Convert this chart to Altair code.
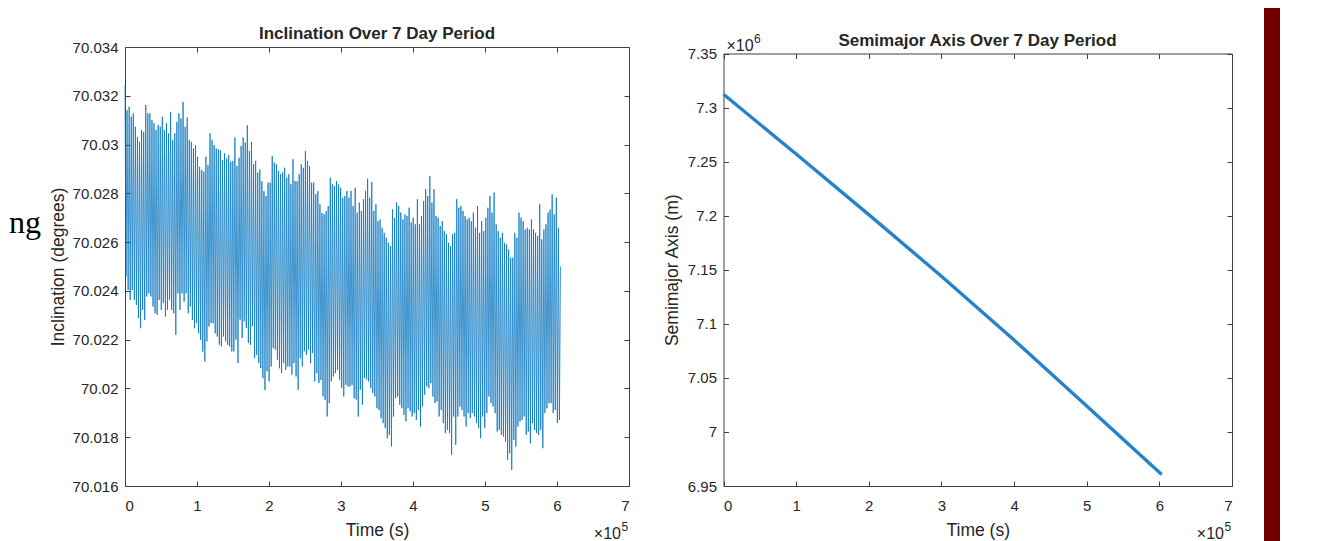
import altair as alt
import pandas as pd
import numpy as np

# ---------------- data ----------------
# Inclination (deg): successive upper and lower turning points of the oscillation
inc_peaks = [
    70.03244, 70.03141, 70.03155, 70.03114, 70.03128, 70.03073, 70.03032, 70.03011, 70.03059, 70.03052,
    70.03162, 70.03128, 70.03128, 70.03100, 70.03087, 70.03059, 70.03080, 70.03073, 70.03114, 70.03059,
    70.03087, 70.03046, 70.03134, 70.03018, 70.03046, 70.03093, 70.03128, 70.03107, 70.03175, 70.03073,
    70.03111, 70.03018, 70.03011, 70.02984, 70.02998, 70.02950, 70.02909, 70.02895, 70.02889, 70.02950,
    70.02916, 70.03046, 70.03018, 70.02998, 70.02984, 70.02980, 70.02977, 70.02936, 70.02964, 70.02943,
    70.02957, 70.02930,
    70.02933, 70.03029, 70.02912, 70.02946, 70.02994, 70.03029, 70.03008, 70.03079, 70.02974, 70.03011,
    70.02919, 70.02933, 70.02885, 70.02898, 70.02850, 70.02809, 70.02789, 70.02844, 70.02844, 70.02953,
    70.02926, 70.02919, 70.02892, 70.02878, 70.02885, 70.02905, 70.02864, 70.02878, 70.02837, 70.02940,
    70.02850, 70.02850, 70.02878, 70.02919, 70.02905, 70.02974, 70.02933, 70.02912, 70.02844, 70.02844,
    70.02796, 70.02809, 70.02755, 70.02720, 70.02714, 70.02727, 70.02748, 70.02864, 70.02837, 70.02830,
    70.02850,
    70.02837, 70.02823, 70.02782, 70.02789, 70.02810, 70.02782, 70.02810, 70.02748, 70.02823, 70.02721,
    70.02762, 70.02728, 70.02776, 70.02810, 70.02860, 70.02782, 70.02847, 70.02728, 70.02755, 70.02686,
    70.02693, 70.02659, 70.02638, 70.02618, 70.02597, 70.02584, 70.02734, 70.02700, 70.02762, 70.02748,
    70.02721, 70.02693, 70.02714, 70.02707, 70.02741, 70.02680, 70.02700, 70.02673, 70.02776, 70.02673,
    70.02707, 70.02769, 70.02817, 70.02789, 70.02871, 70.02762, 70.02817, 70.02707, 70.02700, 70.02666,
    70.02686, 70.02645,
    70.02632, 70.02597, 70.02584, 70.02632, 70.02638, 70.02776, 70.02741, 70.02748, 70.02728, 70.02707,
    70.02693, 70.02700, 70.02686, 70.02721, 70.02659, 70.02748, 70.02638, 70.02686, 70.02645, 70.02700,
    70.02741, 70.02789, 70.02721, 70.02803, 70.02673, 70.02645, 70.02618, 70.02638, 70.02597, 70.02591,
    70.02570, 70.02536, 70.02536, 70.02638, 70.02618, 70.02721, 70.02700, 70.02686, 70.02652, 70.02659,
    70.02652, 70.02693, 70.02652, 70.02638, 70.02625, 70.02755, 70.02611, 70.02652, 70.02673, 70.02721,
    70.02734, 70.02796, 70.02714, 70.02782, 70.02659,
]
inc_troughs = [
    70.02459, 70.02404, 70.02363, 70.02404, 70.02363, 70.02342, 70.02288, 70.02247, 70.02322, 70.02281,
    70.02377, 70.02390, 70.02377, 70.02336, 70.02308, 70.02302, 70.02363, 70.02322, 70.02350, 70.02295,
    70.02322, 70.02363, 70.02322, 70.02308, 70.02220, 70.02390, 70.02322, 70.02390, 70.02356, 70.02390,
    70.02308, 70.02336, 70.02281, 70.02247, 70.02268, 70.02226, 70.02199, 70.02151, 70.02110, 70.02193,
    70.02254, 70.02268, 70.02268, 70.02226, 70.02213, 70.02179, 70.02172, 70.02213, 70.02193, 70.02179,
    70.02172, 70.02151,
    70.02152, 70.02200, 70.02104, 70.02282, 70.02207, 70.02275, 70.02248, 70.02186, 70.02179, 70.02255,
    70.02124, 70.02138, 70.02104, 70.02083, 70.02042, 70.01994, 70.02070, 70.02029, 70.02090, 70.02165,
    70.02159, 70.02118, 70.02083, 70.02063, 70.02104, 70.02076, 70.02090, 70.02090, 70.02056, 70.02104,
    70.02049, 70.01994, 70.02124, 70.02090, 70.02152, 70.02138, 70.02159, 70.02104, 70.02145, 70.02029,
    70.02063, 70.02022, 70.02035, 70.01967, 70.01953, 70.01885, 70.01939, 70.02029, 70.02049, 70.02063,
    70.02076,
    70.02036, 70.02001, 70.01967, 70.02015, 70.02008, 70.02008, 70.02015, 70.01960, 70.01954, 70.01885,
    70.01995, 70.01933, 70.02043, 70.02036, 70.02029, 70.02001, 70.01981, 70.01967, 70.01919, 70.01912,
    70.01878, 70.01858, 70.01837, 70.01796, 70.01810, 70.01762, 70.01885, 70.01960, 70.01967, 70.01933,
    70.01919, 70.01892, 70.01865, 70.01919, 70.01906, 70.01885, 70.01899, 70.01871, 70.01912, 70.01844,
    70.01926, 70.01974, 70.02008, 70.02001, 70.02022, 70.01967, 70.01940, 70.01947, 70.01885, 70.01912,
    70.01858, 70.01817,
    70.01830, 70.01817, 70.01728, 70.01885, 70.01769, 70.01885, 70.01926, 70.01912, 70.01885, 70.01844,
    70.01899, 70.01878, 70.01899, 70.01885, 70.01858, 70.01837, 70.01796, 70.01885, 70.01837, 70.01899,
    70.01967, 70.01940, 70.01926, 70.01899, 70.01823, 70.01830, 70.01810, 70.01803, 70.01782, 70.01707,
    70.01734, 70.01666, 70.01789, 70.01762, 70.01844, 70.01865, 70.01871, 70.01885, 70.01810, 70.01823,
    70.01775, 70.01858, 70.01830, 70.01817, 70.01810, 70.01830, 70.01755, 70.01899, 70.01919, 70.01940,
    70.01940, 70.01899, 70.01912, 70.01858, 70.01871,
]
inc_last = 70.0250
t_end = 604800  # 7 days in seconds

# Semimajor axis (m)
sm_time = [0, 100000, 200000, 300000, 400000, 500000, 603200]
sm_value = [7312300, 7257000, 7201000, 7144000, 7085000, 7024000, 6960600]

x_ticks = [0, 100000, 200000, 300000, 400000, 500000, 600000, 700000]
inc_ticks = [70.016, 70.018, 70.020, 70.022, 70.024, 70.026, 70.028, 70.030, 70.032, 70.034]
sm_ticks = [6950000, 7000000, 7050000, 7100000, 7150000, 7200000, 7250000, 7300000, 7350000]

title_left = ["Inclination Over 7 Day Period"]
title_right = ["Semimajor Axis Over 7 Day Period"]
ylabel_left = "Inclination (degrees)"
ylabel_right = "Semimajor Axis (m)"
xlabel = "Time (s)"
side_text = ["ng"]

# ---------------- build tables ----------------
assert len(inc_peaks) == len(inc_troughs)
vals = np.empty(2 * len(inc_peaks) + 1)
vals[0:-1:2] = inc_peaks
vals[1:-1:2] = inc_troughs
vals[-1] = inc_last
times = np.arange(len(vals)) * (t_end / (len(vals) - 1))
inc_df = pd.DataFrame({"t": times, "inc": vals})
sm_df = pd.DataFrame({"t": sm_time, "a": sm_value})

# ---------------- geometry ----------------
W, H = 1107, 439
AX = "#262626"
FONT = "Liberation Sans"
TICK = 5


def panel(df, yf, xrange_, yrange_, ydom, yticks, ylabel_expr, ytitle, title_x, left_x, right_x, top_y, line):
    xs = alt.Scale(domain=[0, 700000], range=xrange_, nice=False, zero=False)
    ys = alt.Scale(domain=ydom, range=yrange_, nice=False, zero=False)
    base = alt.Chart(df)
    main = line.encode(
        x=alt.X("t:Q", scale=xs, axis=alt.Axis(
            orient="bottom", values=x_ticks, labelExpr="format(datum.value/100000,'d')",
            tickSize=0, labelPadding=12, title=xlabel, titleY=44, titleBaseline="middle")),
        y=alt.Y(f"{yf}:Q", scale=ys, axis=alt.Axis(
            orient="left", offset=-left_x, values=yticks, labelExpr=ylabel_expr,
            tickSize=0, labelPadding=7, title=ytitle, titleX=title_x,
            titleBaseline="middle", titleAlign="center")),
    )
    t1 = base.mark_line(opacity=0).encode(
        x=alt.X("t:Q", scale=xs, axis=alt.Axis(
            orient="top", offset=-H, values=x_ticks, labels=False, tickSize=TICK,
            domain=False, title="")),
        y=alt.Y(f"{yf}:Q", scale=ys, axis=alt.Axis(
            orient="right", offset=-(W - left_x), values=yticks, labels=False,
            tickSize=TICK, domain=False, title="")),
    )
    t2 = base.mark_line(opacity=0).encode(
        x=alt.X("t:Q", scale=xs, axis=alt.Axis(
            orient="bottom", offset=-(H - top_y), values=x_ticks, labels=False,
            tickSize=TICK, domain=True, title="")),
        y=alt.Y(f"{yf}:Q", scale=ys, axis=alt.Axis(
            orient="left", offset=-right_x, values=yticks, labels=False,
            tickSize=TICK, domain=True, title="")),
    )
    return [main, t1, t2]


left_layers = panel(
    inc_df, "inc", [0, 504], [H, 0], [70.016, 70.034], inc_ticks,
    "format(datum.value,'.3~f')", ylabel_left, -67, 0, 504, 0,
    alt.Chart(inc_df).mark_line(color="#0072BD", strokeWidth=0.75),
)
right_layers = panel(
    sm_df, "a", [598.5, 1107], [H, 6.5], [6950000, 7350000], sm_ticks,
    "format(datum.value/1000000,'.2~f')", ylabel_right, -51.5, 598.5, 1107, 6.5,
    alt.Chart(sm_df).mark_line(color="#2583c9", strokeWidth=3.4),
)


def txt(s, x, y, size, weight="normal", align="center", baseline="middle", font=FONT, color=AX):
    return alt.Chart(pd.DataFrame({"s": s})).mark_text(
        font=font, fontSize=size, fontWeight=weight, align=align, baseline=baseline, color=color
    ).encode(text="s:N", x=alt.value(x), y=alt.value(y))


texts = [
    txt(title_left, 252, -13, 17, weight="bold"),
    txt(title_right, 852.5, -6, 17, weight="bold"),
    txt(["\u00d710"], 496, 491.5, 16, align="right", baseline="alphabetic"),
    txt(["5"], 496.5, 483.5, 12, align="left", baseline="alphabetic"),
    txt(["\u00d710"], 1099, 491.5, 16, align="right", baseline="alphabetic"),
    txt(["5"], 1099.5, 483.5, 12, align="left", baseline="alphabetic"),
    txt(["\u00d710"], 601.5, 3.7, 16, align="left", baseline="alphabetic"),
    txt(["6"], 629, -4.3, 12, align="left", baseline="alphabetic"),
    txt(side_text, -116, 186, 32, align="left", baseline="alphabetic",
        font="Liberation Serif", color="#000000"),
]

bar = alt.Chart(pd.DataFrame({"k": [0]})).mark_rect(color="#730000").encode(
    x=alt.value(1139), x2=alt.value(1155), y=alt.value(-47), y2=alt.value(494)
)

chart = alt.layer(*left_layers, *right_layers, *texts, bar).resolve_scale(
    x="independent", y="independent"
).properties(
    width=W, height=H,
    padding={"left": 117, "top": 39, "right": 85, "bottom": 55},
    autosize=alt.AutoSizeParams(type="none"),
).configure_view(stroke="transparent").configure_axis(
    grid=False, labelFont=FONT, titleFont=FONT, labelFontSize=15, titleFontSize=17.5,
    titleFontWeight="normal", labelColor=AX, titleColor=AX, domainColor="#404040",
    tickColor="#404040", domainWidth=1, tickWidth=1,
)

chart.save("out.html", embed_options={"renderer": "svg", "actions": False})
